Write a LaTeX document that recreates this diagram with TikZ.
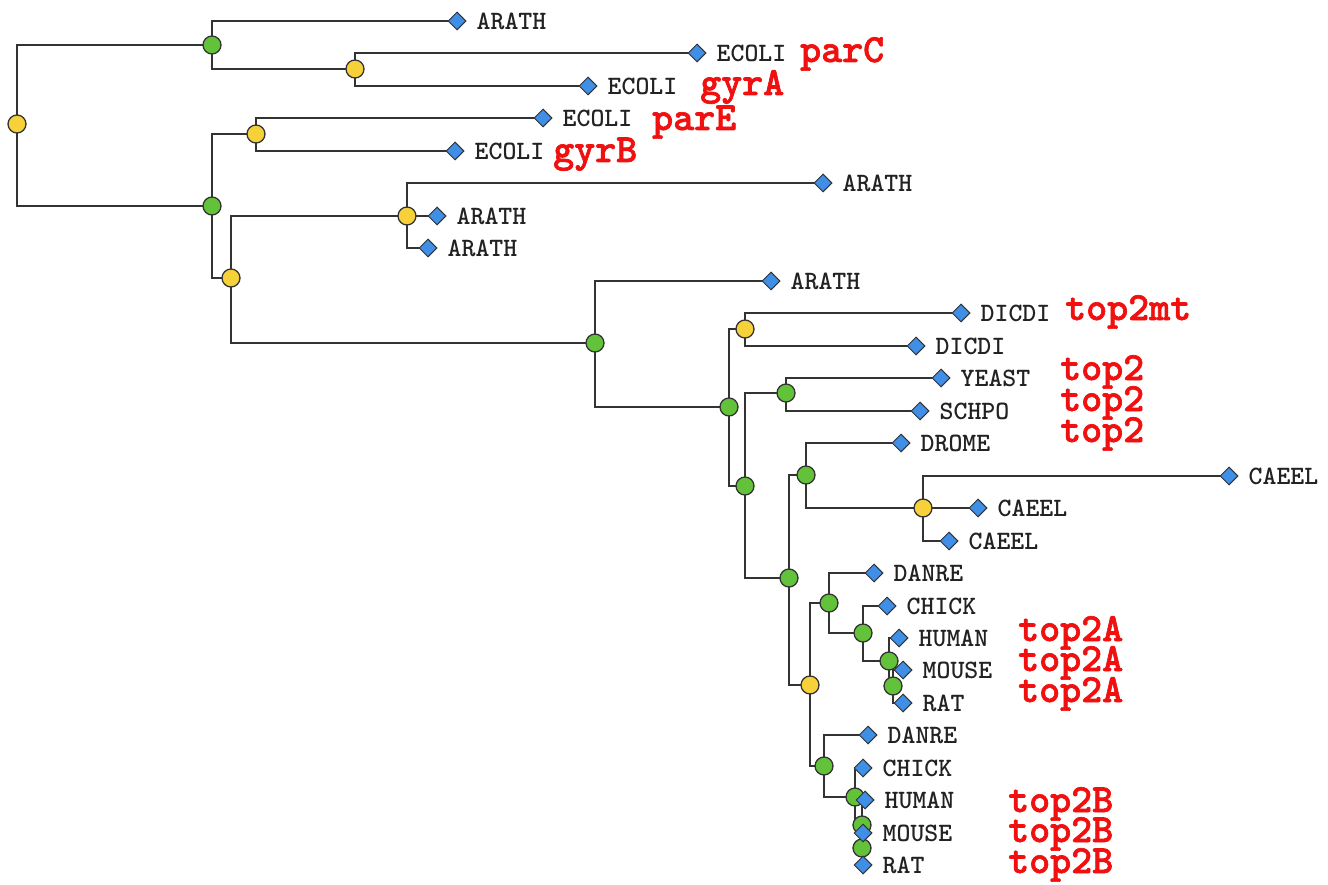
\documentclass[tikz,border=0pt]{standalone}
\usepackage{fontspec}
\newfontfamily\monof{Latin Modern Mono Light}
\newfontfamily\redf[BoldFeatures={FakeBold=1.6}]{Latin Modern Mono Light}
\usetikzlibrary{shapes.geometric,backgrounds}
\definecolor{edgec}{HTML}{333333}
\definecolor{yel}{HTML}{F6D13A}
\definecolor{grn}{HTML}{62C23A}
\definecolor{blu}{HTML}{3F8FE6}
\definecolor{labc}{HTML}{222222}
\definecolor{redc}{HTML}{F01010}
\begin{document}
\begin{tikzpicture}[x=1pt,y=-1pt,
  edge/.style={draw=edgec, line width=2.7pt},
  inode/.style={circle, draw=edgec, line width=1.3pt, minimum size=18pt, inner sep=0pt},
  ynode/.style={inode, fill=yel},
  gnode/.style={inode, fill=grn},
  leaf/.style={diamond, aspect=1, draw=edgec, line width=1pt, fill=blu, minimum size=18pt, inner sep=0pt},
  leaflab/.style={inner sep=0pt, xshift=10pt, text=labc, font=\monof\bfseries\fontsize{26.5}{26.5}\selectfont},
  genelab/.style={inner sep=0pt, anchor=base west, text=redc, font=\redf\bfseries\fontsize{40}{40}\selectfont}]
\useasboundingbox (0,0) rectangle (1328,885);
% internal nodes
\node[ynode] (root) at (17,124) {};
\node[gnode] (nA) at (212,45) {};
\node[ynode] (nC) at (355,69) {};
\node[gnode] (nB) at (212,206) {};
\node[ynode] (nD) at (256,134) {};
\node[ynode] (nE) at (231,278) {};
\node[ynode] (nF) at (407,216) {};
\node[gnode] (nG) at (595,343) {};
\node[gnode] (nH) at (729,407) {};
\node[ynode] (nI) at (745,329) {};
\node[gnode] (nJ) at (745,486) {};
\node[gnode] (nK) at (786,393) {};
\node[gnode] (nL) at (789,578) {};
\node[gnode] (nM) at (806,475) {};
\node[ynode] (nO) at (923,508) {};
\node[ynode] (nN) at (810,685) {};
\node[gnode] (nP) at (829,603) {};
\node[gnode] (nQ) at (824,766) {};
\node[gnode] (nR) at (863,633) {};
\node[gnode] (nS) at (889,661) {};
\node[gnode] (nT) at (893,686) {};
\node[gnode] (nU) at (855,797) {};
\node[gnode] (nV) at (862,825) {};
\node[gnode] (nW) at (862,848) {};
% leaves
\node[leaf, label={[leaflab]right:ARATH}] (l1) at (457,21) {};
\node[leaf, label={[leaflab]right:ECOLI}] (l2) at (697,53) {};
\node[leaf, label={[leaflab]right:ECOLI}] (l3) at (588,86) {};
\node[leaf, label={[leaflab]right:ECOLI}] (l4) at (543,118) {};
\node[leaf, label={[leaflab]right:ECOLI}] (l5) at (455,151) {};
\node[leaf, label={[leaflab]right:ARATH}] (l6) at (823,183) {};
\node[leaf, label={[leaflab]right:ARATH}] (l7) at (437,216) {};
\node[leaf, label={[leaflab]right:ARATH}] (l8) at (428,248) {};
\node[leaf, label={[leaflab]right:ARATH}] (l9) at (771,281) {};
\node[leaf, label={[leaflab]right:DICDI}] (l10) at (961,313) {};
\node[leaf, label={[leaflab]right:DICDI}] (l11) at (916,346) {};
\node[leaf, label={[leaflab]right:YEAST}] (l12) at (941,378) {};
\node[leaf, label={[leaflab]right:SCHPO}] (l13) at (920,411) {};
\node[leaf, label={[leaflab]right:DROME}] (l14) at (901,443) {};
\node[leaf, label={[leaflab]right:CAEEL}] (l15) at (1229,476) {};
\node[leaf, label={[leaflab]right:CAEEL}] (l16) at (978,508) {};
\node[leaf, label={[leaflab]right:CAEEL}] (l17) at (949,541) {};
\node[leaf, label={[leaflab]right:DANRE}] (l18) at (874,573) {};
\node[leaf, label={[leaflab]right:CHICK}] (l19) at (887,606) {};
\node[leaf, label={[leaflab]right:HUMAN}] (l20) at (899,638) {};
\node[leaf, label={[leaflab]right:MOUSE}] (l21) at (903,670) {};
\node[leaf, label={[leaflab]right:RAT}] (l22) at (903,703) {};
\node[leaf, label={[leaflab]right:DANRE}] (l23) at (868,735) {};
\node[leaf, label={[leaflab]right:CHICK}] (l24) at (863,768) {};
\node[leaf, label={[leaflab]right:HUMAN}] (l25) at (865,800) {};
\node[leaf, label={[leaflab]right:MOUSE}] (l26) at (863,833) {};
\node[leaf, label={[leaflab]right:RAT}] (l27) at (863,865) {};
% edges
\begin{scope}[on background layer]
\foreach \p/\c in {root/nA,root/nB,nA/l1,nA/nC,nC/l2,nC/l3,nB/nD,nB/nE,nD/l4,nD/l5,
  nE/nF,nE/nG,nF/l6,nF/l7,nF/l8,nG/l9,nG/nH,nH/nI,nH/nJ,nI/l10,nI/l11,nJ/nK,nJ/nL,
  nK/l12,nK/l13,nL/nM,nL/nN,nM/l14,nM/nO,nO/l15,nO/l16,nO/l17,nN/nP,nN/nQ,
  nP/l18,nP/nR,nR/l19,nR/nS,nS/l20,nS/nT,nT/l21,nT/l22,nQ/l23,nQ/nU,nU/l24,nU/nV,
  nV/l25,nV/nW,nW/l26,nW/l27}
  \draw[edge] (\p.center) |- (\c.center);
\end{scope}
% gene labels
\node[genelab] (gparC) at (800,62) {parC};
\node[genelab] (ggyrA) at (700,95) {gyrA};
\node[genelab] (gparE) at (652,130) {parE};
\node[genelab] (ggyrB) at (553,162) {gyrB};
\node[genelab] (gtopmt) at (1065,320) {top2mt};
\node[genelab] (gtop1) at (1060,380) {top2};
\node[genelab] (gtop2) at (1060,411) {top2};
\node[genelab] (gtop3) at (1060,442) {top2};
\node[genelab] (gA1) at (1018,641) {top2A};
\node[genelab] (gA2) at (1018,671) {top2A};
\node[genelab] (gA3) at (1018,702) {top2A};
\node[genelab] (gB1) at (1008,812) {top2B};
\node[genelab] (gB2) at (1008,842) {top2B};
\node[genelab] (gB3) at (1008,873) {top2B};
\end{tikzpicture}
\end{document}
